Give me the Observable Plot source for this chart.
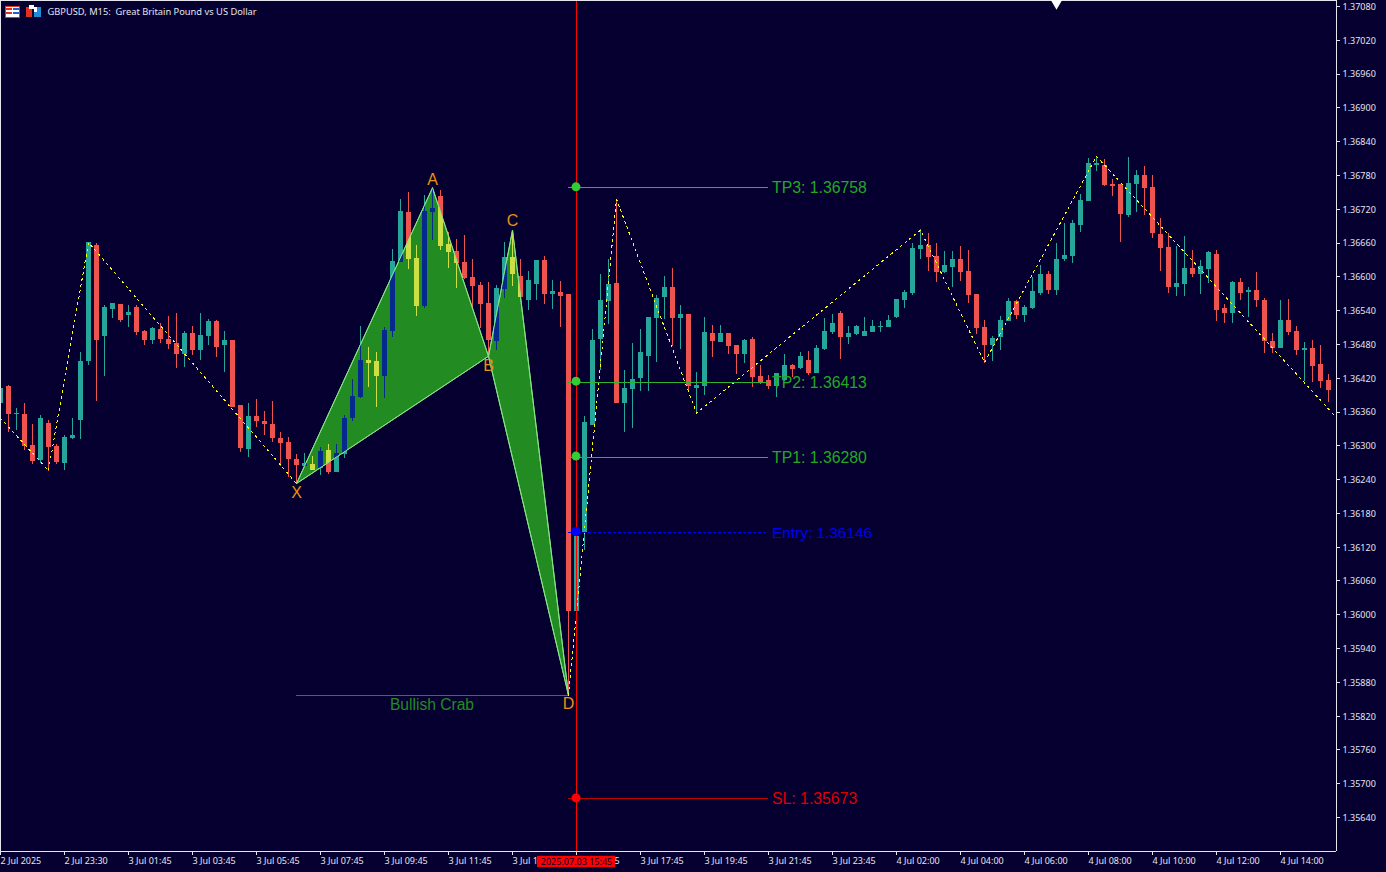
<!DOCTYPE html>
<html><head><meta charset="utf-8">
<style>html,body{margin:0;padding:0;background:#060030;overflow:hidden}#chart{position:relative;width:1386px;height:872px}svg{display:block}#icons{position:absolute;left:0;top:0}</style>
<script src="https://cdn.jsdelivr.net/npm/d3@7"></script>
<script src="https://cdn.jsdelivr.net/npm/@observablehq/plot@0.6"></script>
</head><body><div id="chart"></div>
<script>
// prices in broker points (1 point = 0.00001)
const opens=[136375,136405,136356,136356,136301,136274,136340,136299,136269,136313,136345,136450,136656,136494,136542,136551,136532,136546,136503,136487,136507,136489,136482,136462,136500,136469,136494,136521,136478,136487,136372,136294,136352,136343,136338,136313,136306,136276,136263,136267,136260,136292,136253,136285,136349,136386,136452,136450,136423,136503,136626,136714,136633,136548,136714,136743,136658,136645,136626,136599,136585,136553,136485,136578,136635,136601,136558,136587,136629,136569,136572,136569,136006,136146,136336,136489,136556,136588,136375,136400,136420,136459,136526,136564,136581,136526,136533,136402,136405,136500,136484,136500,136478,136462,136489,136423,136416,136405,136416,136443,136437,136452,136429,136471,136501,136535,136492,136498,136494,136501,136510,136510,136528,136558,136571,136649,136656,136636,136608,136617,136631,136610,136569,136510,136478,136492,136521,136556,136532,136544,136571,136604,136576,136631,136636,136691,136734,136798,136798,136764,136764,136709,136764,136780,136759,136675,136652,136581,136587,136615,136604,136613,136640,136544,136535,136590,136572,136576,136558,136485,136473,136523,136503,136469,136473,136445,136416];
const highs=[136405,136407,136366,136375,136338,136354,136345,136302,136318,136349,136466,136661,136660,136549,136553,136551,136549,136549,136505,136510,136517,136530,136535,136503,136512,136535,136524,136523,136503,136487,136372,136375,136382,136361,136379,136324,136315,136285,136286,136281,136297,136302,136302,136354,136418,136512,136475,136466,136510,136649,136738,136750,136656,136745,136759,136754,136679,136667,136674,136631,136590,136590,136585,136661,136683,136631,136610,136629,136636,136594,136592,136569,136146,136352,136507,136604,136631,136738,136434,136482,136507,136528,136567,136601,136615,136549,136533,136430,136528,136514,136514,136500,136478,136489,136492,136443,136425,136429,136462,136445,136466,136468,136478,136526,136533,136539,136512,136514,136528,136523,136521,136532,136560,136576,136660,136684,136677,136660,136645,136645,136654,136647,136569,136523,136494,136530,136562,136558,136549,136599,136620,136610,136660,136695,136700,136746,136810,136814,136809,136773,136764,136812,136789,136796,136780,136704,136677,136654,136672,136647,136629,136645,136647,136551,136592,136597,136581,136608,136562,136500,136558,136560,136512,136484,136487,136478,136427];
const lows=[136372,136324,136327,136292,136267,136269,136255,136267,136256,136311,136311,136443,136379,136423,136526,136519,136510,136496,136478,136480,136482,136471,136437,136439,136460,136452,136478,136457,136430,136368,136288,136279,136333,136318,136306,136263,136244,136233,136262,136256,136248,136249,136253,136278,136343,136384,136404,136368,136384,136492,136626,136613,136530,136544,136665,136647,136615,136579,136595,136544,136508,136460,136469,136562,136583,136564,136540,136558,136551,136542,136510,135857,136006,136114,136336,136434,136516,136375,136324,136331,136397,136397,136448,136524,136476,136471,136397,136356,136389,136457,136484,136462,136427,136446,136404,136409,136400,136386,136414,136421,136436,136425,136429,136469,136498,136453,136480,136496,136494,136501,136501,136510,136526,136544,136567,136631,136610,136590,136606,136581,136592,136553,136498,136446,136450,136469,136521,136524,136519,136542,136567,136569,136567,136627,136624,136679,136734,136787,136761,136743,136661,136706,136714,136709,136668,136610,136571,136565,136565,136599,136569,136588,136521,136517,136517,136558,136528,136546,136464,136464,136473,136496,136460,136414,136413,136402,136377];
const closes=[136402,136356,136357,136299,136272,136349,136297,136270,136315,136318,136450,136661,136487,136546,136553,136523,136537,136501,136487,136508,136489,136480,136462,136500,136469,136496,136521,136475,136487,136368,136295,136352,136343,136338,136313,136304,136276,136265,136269,136256,136290,136253,136286,136349,136388,136452,136446,136423,136505,136627,136716,136631,136548,136716,136722,136654,136643,136624,136597,136583,136551,136487,136579,136635,136604,136564,136594,136629,136569,136574,136565,136006,136139,136342,136487,136558,136587,136375,136402,136418,136466,136528,136562,136581,136526,136533,136405,136407,136501,136485,136500,136476,136462,136487,136421,136413,136405,136429,136443,136436,136459,136429,136473,136503,136517,136492,136500,136512,136503,136512,136512,136523,136560,136572,136651,136656,136635,136608,136620,136631,136608,136567,136508,136478,136491,136523,136556,136532,136546,136574,136604,136576,136631,136638,136695,136736,136802,136802,136762,136761,136711,136766,136780,136757,136677,136651,136581,136588,136615,136604,136619,136643,136540,136535,136590,136571,136576,136558,136485,136473,136523,136501,136469,136473,136441,136414,136398];

const zigA={i:[0,6,11,37],p:[136349,136256,136661,136233]};
const zigB={i:[71,77,87,115,123,137,167],p:[135857,136738,136358,136683,136448,136814,136350]};
const patternNames=["X","A","B","C","D"];
const patternBars=[37,54,61,64,71];
const patternPts=[136233,136758,136459,136683,135857];
const patternLabelShift=[9,-8,10,-9,9];
const levelNames=["TP3","TP2","TP1","Entry","SL"];
const levelValues=[1.36758,1.36413,1.36280,1.36146,1.35673];
const levelColors=["#23a823","#23a823","#23a823","#0000ee","#dd0000"];
const levelLineColors=["#2db42d","#2db42d","#2db42d","#0000ff","#c00000"];
const levelDotColors=["#32cd32","#32cd32","#32cd32","#0000ff","#ff0000"];
const priceTicks=[1.37080,1.37020,1.36960,1.36900,1.36840,1.36780,1.36720,1.36660,1.36600,1.36540,1.36480,1.36420,1.36360,1.36300,1.36240,1.36180,1.36120,1.36060,1.36000,1.35940,1.35880,1.35820,1.35760,1.35700,1.35640];
const timeTickBars=[0,8,16,24,32,40,48,56,64,72,80,88,96,104,112,120,128,136,144,152,160];
const timeTickLabels=["2 Jul 2025","2 Jul 23:30","3 Jul 01:45","3 Jul 03:45","3 Jul 05:45","3 Jul 07:45","3 Jul 09:45","3 Jul 11:45","3 Jul 13:45","3 Jul 15:45","3 Jul 17:45","3 Jul 19:45","3 Jul 21:45","3 Jul 23:45","4 Jul 02:00","4 Jul 04:00","4 Jul 06:00","4 Jul 08:00","4 Jul 10:00","4 Jul 12:00","4 Jul 14:00"];
const signalBar=72, signalTime="2025.07.03 15:45";
const title="GBPUSD, M15:  Great Britain Pound vs US Dollar";
const patternName="Bullish Crab";

const BG="#060030", FG="#e4e4ee", RED="#ef5350", TEAL="#26a69a", XRED="#cddf44", XTEAL="#042a8e", FILL="#228b22", EDGE="#86e486", GOLD="#e8920f";
const FONT="'Noto Sans',sans-serif", BIG="'Liberation Sans',Arial,sans-serif";

const px=v=>v/1e5;
const candles=opens.map((o,i)=>({i,o:px(o),h:px(highs[i]),l:px(lows[i]),c:px(closes[i]),up:closes[i]>=opens[i]}));
const pat=patternNames.map((n,k)=>({n,i:patternBars[k],p:px(patternPts[k]),dy:patternLabelShift[k]}));
const levels=levelNames.map((n,k)=>({n,v:levelValues[k],c:levelColors[k],lc:levelLineColors[k],dc:levelDotColors[k]}));
const solid=levels.filter(d=>d.n!=="Entry"), entry=levels.filter(d=>d.n==="Entry");
const zig=z=>z.i.map((i,k)=>({i,p:px(z.p[k])}));
const triXAB=[pat[0],pat[1],pat[2],pat[0]], triBCD=[pat[2],pat[3],pat[4],pat[2]];

const candleMarks=(up,dn)=>[
  Plot.ruleX(candles,{x:"i",y1:"l",y2:"h",stroke:d=>d.up?up:dn,strokeWidth:1,shapeRendering:"crispEdges"}),
  Plot.ruleX(candles,{x:"i",y1:"o",y2:"c",stroke:d=>d.up?up:dn,strokeWidth:5,shapeRendering:"crispEdges"})
];
const tri=(data)=>Plot.line(data,{x:"i",y:"p",fill:FILL,stroke:EDGE,strokeWidth:1});
const dash={x:"i",y:"p",stroke:"#ffff00",strokeWidth:1,strokeDasharray:"2,4",shapeRendering:"crispEdges"};
const frameRule={stroke:FG,strokeWidth:1,shapeRendering:"crispEdges"};

const plot=Plot.plot({
  width:1386,height:872,marginTop:0,marginLeft:0,marginRight:50,marginBottom:21,
  style:{background:BG,fontFamily:FONT,overflow:"visible"},
  x:{domain:[0,167],range:[0,1336]},
  y:{domain:[1.355796,1.370907],range:[851,0]},
  color:{type:"identity"},
  marks:[
    ...candleMarks(TEAL,RED),
    tri(triXAB),tri(triBCD),
    ...candleMarks(XTEAL,XRED),
    Plot.line(triXAB,{x:"i",y:"p",stroke:EDGE,strokeWidth:1}),
    Plot.line(triBCD,{x:"i",y:"p",stroke:EDGE,strokeWidth:1}),
    Plot.line(zig(zigA),dash),
    Plot.line(zig(zigB),dash),
    Plot.ruleY([pat[4]],{y:"p",x1:pat[0].i,x2:pat[4].i,stroke:"#2a7d3a",strokeWidth:1,shapeRendering:"crispEdges"}),
    Plot.text([patternName],{x:54,y:pat[4].p,dy:9.5,dx:-0.5,text:d=>d,fill:FILL,fontSize:15.6,fontFamily:BIG}),
    Plot.ruleY(solid,{y:"v",x1:71,x2:96,stroke:"lc",strokeWidth:1,shapeRendering:"crispEdges"}),
    Plot.ruleY(entry,{y:"v",x1:71,x2:96,stroke:"lc",strokeWidth:1,strokeDasharray:"3,2",shapeRendering:"crispEdges"}),
    Plot.ruleX([signalBar],{stroke:"#ff0000",strokeWidth:1,shapeRendering:"crispEdges"}),
    Plot.dot(levels,{x:signalBar,y:"v",r:4.5,dx:-0.5,dy:-1,fill:"dc",stroke:"none"}),
    Plot.text(solid,{x:96,y:"v",dx:3.5,dy:0.5,text:d=>`${d.n}: ${d.v.toFixed(5)}`,fill:"c",fontSize:15.8,fontFamily:BIG,textAnchor:"start"}),
    Plot.text(entry,{x:96,y:"v",dx:3.5,dy:0.5,text:d=>`${d.n}: ${d.v.toFixed(5)}`,fill:"c",fontSize:15.4,fontFamily:BIG,textAnchor:"start"}),
    ...pat.map(d=>Plot.text([d],{x:"i",y:"p",dy:d.dy,text:"n",fill:GOLD,fontSize:16,fontFamily:BIG})),
    Plot.ruleX([0],frameRule),
    Plot.ruleX([167],frameRule),
    Plot.ruleY([1.355796],frameRule),
    Plot.ruleY([1.370907],frameRule),
    Plot.ruleY(priceTicks,{x1:167,x2:167.5,...frameRule}),
    Plot.axisY({anchor:"right",ticks:priceTicks,tickFormat:d3.format(".5f"),tickSize:0,tickPadding:6,dy:0.5,label:null,color:FG,fontSize:9,fontFamily:FONT}),
    Plot.axisX({ticks:timeTickBars,tickSize:4,tickPadding:2,label:null,color:FG,fontSize:9,fontFamily:FONT,textAnchor:"start",tickFormat:i=>timeTickLabels[timeTickBars.indexOf(i)]}),
    Plot.rect([0],{x1:67.125,x2:76.875,y1:1.35571,y2:1.35551,fill:"#ff0000"}),
    Plot.text([signalTime],{x:signalBar,y:1.35561,text:d=>d,fill:BG,fontSize:9,fontFamily:FONT}),
    Plot.dot([132],{x:d=>d,frameAnchor:"top",symbol:"triangle",r:6,rotate:180,fill:"#ffffff"}),
    Plot.text([title],{frameAnchor:"top-left",dx:47,dy:12,text:d=>d,fill:FG,fontSize:9.3,fontFamily:FONT,textAnchor:"start",lineAnchor:"middle"})
  ]
});
// The terminal fills the harmonic pattern with XOR, so candles inside it change colour.
const sx=plot.scale("x"), sy=plot.scale("y");
const ns="http://www.w3.org/2000/svg";
const defs=document.createElementNS(ns,"defs"), cp=document.createElementNS(ns,"clipPath");
cp.setAttribute("id","pattern-clip");
[triXAB,triBCD].forEach(t=>{
  const p=document.createElementNS(ns,"polygon");
  p.setAttribute("points",t.slice(0,3).map(d=>`${sx.apply(d.i)},${sy.apply(d.p)+.5}`).join(" "));
  cp.appendChild(p);
});
defs.appendChild(cp);plot.insertBefore(defs,plot.firstChild);
plot.querySelectorAll("line").forEach(l=>{
  const s=l.getAttribute("stroke");
  if(s===XTEAL||s===XRED)l.setAttribute("clip-path","url(#pattern-clip)");
});
const chart=document.getElementById("chart");
chart.appendChild(plot);
chart.insertAdjacentHTML("beforeend",`<svg id="icons" width="46" height="22" aria-hidden="true">
<rect x="5.5" y="6.5" width="14" height="11" fill="#fff" stroke="#e03020"/><rect x="6" y="8" width="6" height="2" fill="#e03020"/><rect x="6" y="12" width="6" height="2" fill="#e03020"/><rect x="13" y="8" width="6" height="2" fill="#2060d0"/><rect x="13" y="12" width="6" height="2" fill="#2060d0"/><rect x="26" y="7" width="6" height="10" fill="#e03020"/><rect x="29" y="5" width="5" height="4" fill="#fff"/><rect x="34" y="7" width="7" height="10" fill="#1f8ad8"/><rect x="34" y="7" width="3" height="5" fill="#fff"/></svg>`);
</script></body></html>
